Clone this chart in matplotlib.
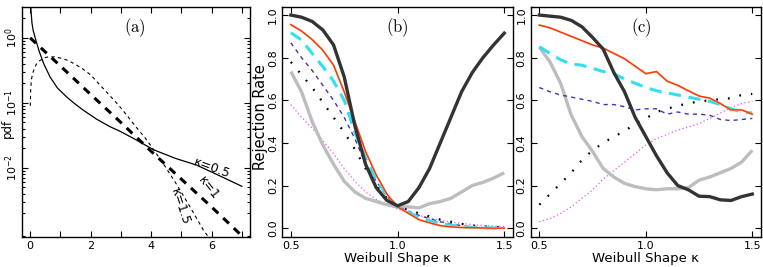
import numpy as np
import matplotlib.pyplot as plt
from matplotlib.ticker import FixedLocator, LogLocator, NullFormatter, FixedFormatter

# ------------------------------------------------------------
# Data
# ------------------------------------------------------------

# (a) Weibull pdfs, log scale
k05_x = [0.01, 0.03, 0.06, 0.1, 0.19, 0.3, 0.45, 0.66, 0.9, 1.21, 1.5, 1.76, 2.2,
         2.64, 3.0, 3.5, 4.08, 4.8, 5.51, 6.2, 7.0]
k05_y = [4.0, 2.6, 1.7, 1.3, 0.92, 0.62, 0.40, 0.25, 0.17, 0.123, 0.095, 0.077, 0.056,
         0.043, 0.036, 0.027, 0.019, 0.014, 0.011, 0.0078, 0.0052]

k1_x = [0, 1, 2, 3, 4, 5, 6, 7]
k1_y = [1.0, 0.37, 0.135, 0.05, 0.018, 0.0067, 0.0025, 0.0009]

k15_x = [0.005, 0.02, 0.05, 0.1, 0.2, 0.3, 0.45, 0.6, 0.8, 1.0, 1.25, 1.5, 1.75, 2.0,
         2.3, 2.6, 2.97, 3.25, 3.53, 3.8, 4.02, 4.41, 4.85, 5.29, 5.73, 5.95]
k15_y = [0.09, 0.17, 0.24, 0.30, 0.39, 0.44, 0.49, 0.51, 0.51, 0.49, 0.45, 0.39, 0.33,
         0.27, 0.19, 0.135, 0.087, 0.06, 0.041, 0.029, 0.021, 0.0115, 0.0055, 0.0025,
         0.0011, 0.0008]

# (b), (c) rejection rates vs Weibull shape
shape = [0.5, 0.55, 0.6, 0.65, 0.7, 0.75, 0.8, 0.85, 0.9, 0.95, 1.0,
         1.05, 1.1, 1.15, 1.2, 1.25, 1.3, 1.35, 1.4, 1.45, 1.5]

b_black = [1.0, 0.99, 0.97, 0.93, 0.86, 0.71, 0.48, 0.30, 0.19, 0.13, 0.105,
           0.125, 0.19, 0.28, 0.40, 0.52, 0.64, 0.73, 0.80, 0.86, 0.915]
b_red = [0.955, 0.925, 0.885, 0.835, 0.765, 0.64, 0.50, 0.36, 0.25, 0.16, 0.10,
         0.07, 0.04, 0.025, 0.012, 0.006, 0.003, 0.002, 0.001, 0.0, 0.0]
b_cyan = [0.917, 0.883, 0.82, 0.758, 0.69, 0.60, 0.45, 0.33, 0.23, 0.155, 0.10,
          0.075, 0.05, 0.035, 0.022, 0.014, 0.008, 0.004, 0.002, 0.001, 0.0]
b_purple = [0.87, 0.80, 0.74, 0.67, 0.60, 0.52, 0.42, 0.30, 0.22, 0.15, 0.10,
            0.08, 0.06, 0.045, 0.03, 0.02, 0.012, 0.006, 0.003, 0.002, 0.001]
b_dots = [0.78, 0.72, 0.66, 0.59, 0.52, 0.45, 0.37, 0.28, 0.20, 0.14, 0.10,
          0.085, 0.07, 0.055, 0.04, 0.03, 0.02, 0.012, 0.008, 0.005, 0.003]
b_gray = [0.735, 0.64, 0.50, 0.39, 0.30, 0.22, 0.17, 0.14, 0.125, 0.11, 0.10,
          0.10, 0.095, 0.115, 0.125, 0.14, 0.17, 0.20, 0.215, 0.235, 0.26]
b_magenta = [0.58, 0.52, 0.47, 0.41, 0.35, 0.28, 0.22, 0.17, 0.135, 0.11, 0.09,
             0.075, 0.06, 0.047, 0.037, 0.028, 0.022, 0.017, 0.013, 0.01, 0.008]

c_black = [1.0, 0.995, 0.99, 0.975, 0.945, 0.895, 0.84, 0.73, 0.64, 0.52, 0.43,
           0.34, 0.26, 0.20, 0.18, 0.15, 0.148, 0.133, 0.13, 0.148, 0.16]
c_red = [0.953, 0.94, 0.92, 0.90, 0.88, 0.86, 0.845, 0.82, 0.795, 0.76, 0.725,
         0.735, 0.69, 0.67, 0.645, 0.62, 0.61, 0.585, 0.555, 0.555, 0.535]
c_cyan = [0.852, 0.82, 0.79, 0.77, 0.765, 0.75, 0.735, 0.725, 0.70, 0.68, 0.66,
          0.645, 0.635, 0.625, 0.615, 0.605, 0.595, 0.58, 0.56, 0.545, 0.54]
c_purple = [0.66, 0.64, 0.625, 0.615, 0.605, 0.595, 0.58, 0.58, 0.57, 0.555, 0.56,
            0.56, 0.535, 0.545, 0.535, 0.535, 0.53, 0.51, 0.505, 0.51, 0.515]
c_dots = [0.11, 0.16, 0.21, 0.26, 0.32, 0.365, 0.40, 0.43, 0.455, 0.49, 0.515,
          0.545, 0.56, 0.575, 0.585, 0.595, 0.60, 0.605, 0.61, 0.625, 0.63]
c_gray = [0.85, 0.78, 0.68, 0.53, 0.43, 0.36, 0.28, 0.24, 0.21, 0.195, 0.185,
          0.18, 0.185, 0.185, 0.19, 0.225, 0.24, 0.26, 0.28, 0.31, 0.365]
c_magenta = [0.03, 0.045, 0.07, 0.10, 0.14, 0.18, 0.23, 0.27, 0.31, 0.35, 0.39,
             0.42, 0.44, 0.46, 0.475, 0.49, 0.515, 0.54, 0.565, 0.585, 0.595]


# ------------------------------------------------------------
# Helpers
# ------------------------------------------------------------

def style_axes(ax, ypad=3):
    ax.tick_params(direction="in", which="both", top=True, right=True,
                   labelsize=8, width=0.8)
    ax.tick_params(axis="x", pad=3)
    ax.tick_params(axis="y", pad=ypad)
    ax.tick_params(which="major", length=4)
    ax.tick_params(which="minor", length=2.5)
    for s in ax.spines.values():
        s.set_linewidth(1.0)


def panel_label(ax, x, y, text):
    ax.text(x, y, r"$\mathrm{" + text + "}$", math_fontfamily="cm",
            fontsize=12, ha="center", va="center")


def draw_rates(ax, black, red, cyan, purple, dots, gray, magenta):
    ax.plot(shape, magenta, color="#F050F0", lw=0.9, ls=(0, (1, 2)))
    ax.plot(shape, gray, color="#BDBDBD", lw=2.4, solid_capstyle="butt")
    ax.plot(shape, dots, color="black", lw=1.6, ls=(0, (0.8, 4.5)))
    ax.plot(shape, purple, color="#4B2FB0", lw=1.0, ls=(0, (3, 3)))
    ax.plot(shape, cyan, color="#30E0F0", lw=2.2, ls=(0, (4, 2.5)))
    ax.plot(shape, red, color="#F0C888", lw=1.5)
    ax.plot(shape, red, color="#FF3010", lw=1.0)
    ax.plot(shape, black, color="#333333", lw=2.4)

    ax.set_xlim(0.46, 1.54)
    ax.set_ylim(-0.04, 1.04)
    ax.xaxis.set_major_locator(FixedLocator([0.5, 1.0, 1.5]))
    ax.yaxis.set_major_locator(FixedLocator([0.0, 0.2, 0.4, 0.6, 0.8, 1.0]))
    ax.set_xticklabels(["0.5", "1.0", "1.5"])
    ax.set_yticklabels(["0.0", "0.2", "0.4", "0.6", "0.8", "1.0"],
                       rotation=90, va="center")
    ax.set_xlabel("Weibull Shape \u03ba", fontsize=9.5, labelpad=1)
    style_axes(ax)


# ------------------------------------------------------------
# Figure
# ------------------------------------------------------------

fig = plt.figure(figsize=(7.63, 2.67), dpi=100)

ax_a = fig.add_axes([0.0284, 0.1135, 0.2996, 0.859])
ax_b = fig.add_axes([0.370, 0.1135, 0.3021, 0.862])
ax_c = fig.add_axes([0.6957, 0.1135, 0.3014, 0.862])

# (a)
ax_a.plot(k05_x, k05_y, color="black", lw=0.9)
ax_a.plot(k1_x, k1_y, color="black", lw=2.2, ls=(0, (2.6, 2.2)))
ax_a.plot(k15_x, k15_y, color="black", lw=0.8, ls=(0, (3, 3)))
ax_a.set_yscale("log")
ax_a.set_xlim(-0.28, 7.28)
ax_a.set_ylim(10 ** -3.06, 10 ** 0.47)
ax_a.xaxis.set_major_locator(FixedLocator([0, 1, 2, 3, 4, 5, 6, 7]))
ax_a.xaxis.set_major_formatter(FixedFormatter(["0", "", "2", "", "4", "", "6", ""]))
ax_a.yaxis.set_major_locator(FixedLocator([1.0, 0.1, 0.01]))
ax_a.yaxis.set_major_formatter(FixedFormatter([r"$10^{0}$", r"$10^{-1}$", r"$10^{-2}$"]))
ax_a.yaxis.set_minor_locator(LogLocator(base=10, subs=np.arange(2, 10)))
ax_a.yaxis.set_minor_formatter(NullFormatter())
for lab in ax_a.get_yticklabels():
    lab.set_rotation(90)
    lab.set_va("center")
style_axes(ax_a, ypad=1.2)
ax_a.set_ylabel("pdf", fontsize=8.5)
ax_a.yaxis.set_label_coords(-0.032, 0.47)
ax_a.text(6.0, 0.0098, "\u03ba=0.5", fontsize=9, rotation=-20, ha="center", va="center")
ax_a.text(5.9, 0.0048, "\u03ba=1", fontsize=9, rotation=-52, ha="center", va="center")
ax_a.text(4.96, 0.0025, "\u03ba=1.5", fontsize=9, rotation=-72, ha="center", va="center")
panel_label(ax_a, 3.47, 1.46, "(a)")

# (b)
draw_rates(ax_b, b_black, b_red, b_cyan, b_purple, b_dots, b_gray, b_magenta)
ax_b.set_ylabel("Rejection Rate", fontsize=10.5)
ax_b.yaxis.set_label_coords(-0.062, 0.52)
panel_label(ax_b, 1.0, 0.94, "(b)")

# (c)
draw_rates(ax_c, c_black, c_red, c_cyan, c_purple, c_dots, c_gray, c_magenta)
panel_label(ax_c, 0.98, 0.94, "(c)")

fig.savefig("out.png", dpi=100)
